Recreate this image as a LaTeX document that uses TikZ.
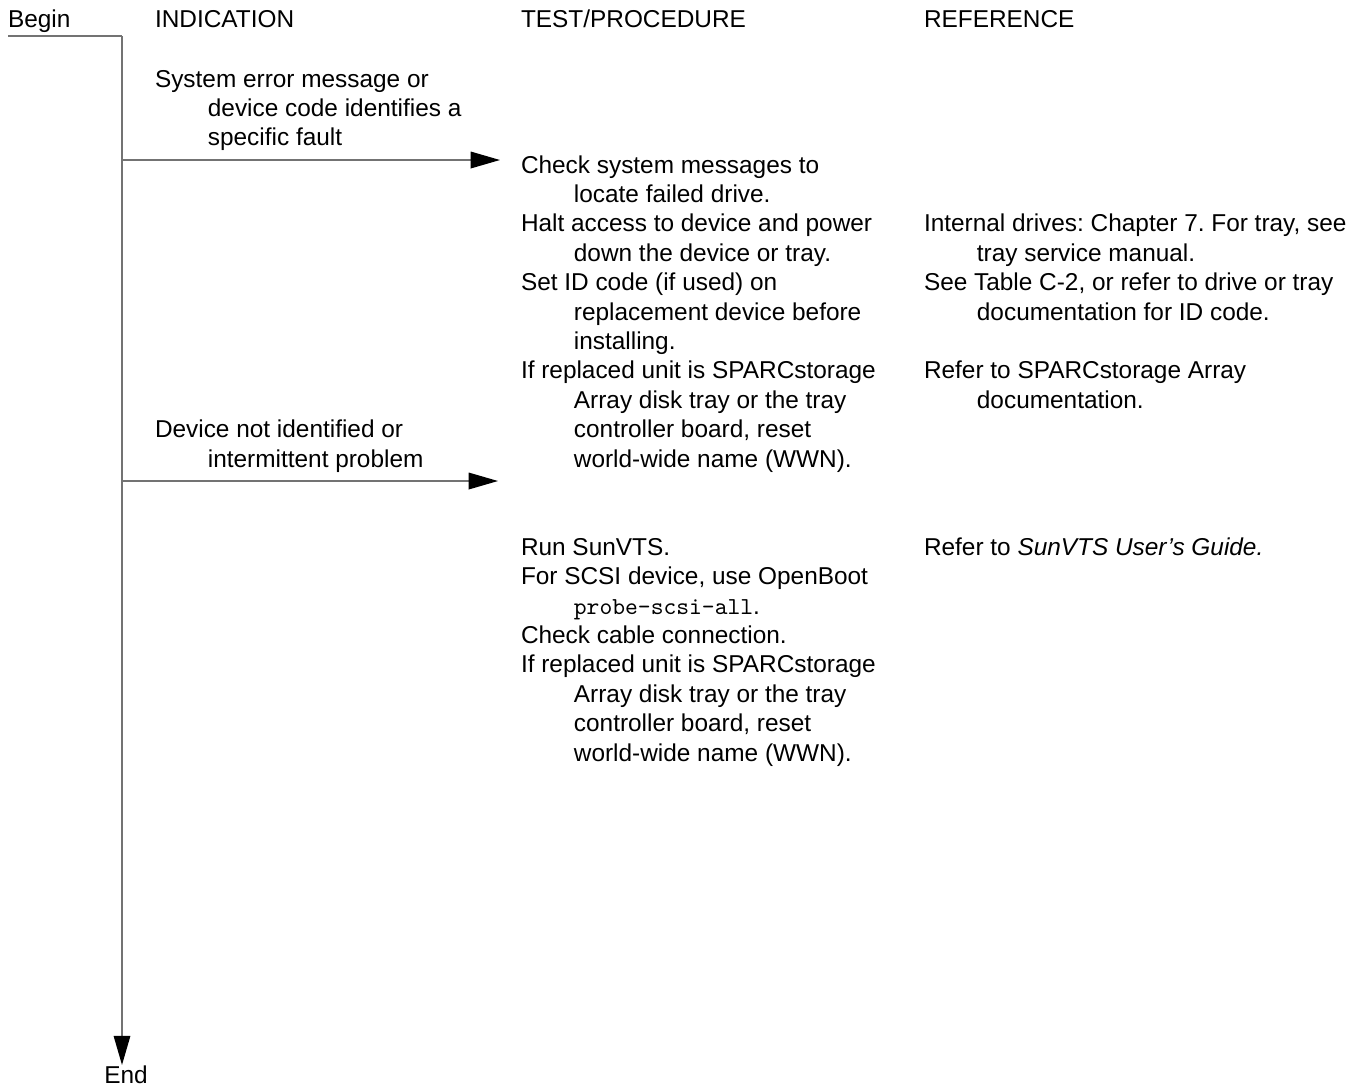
\documentclass[tikz,border=0pt]{standalone}
\usepackage{fontspec}
\setmainfont{Liberation Sans}
\frenchspacing
\usetikzlibrary{positioning,arrows.meta}
\tikzset{lbl/.style={anchor=base west, inner sep=0pt, outer sep=0pt, font=\fontsize{10}{12.05}\selectfont}}
% multi-line texts: placed at the baseline of their last line
\tikzset{txt/.style={lbl, align=left}}
\tikzset{flow/.style={draw=black!55, line width=0.6pt}}
\tikzset{arrtip/.style={-{Triangle[length=12pt, width=6.8pt, black]}}}
\newcommand{\ind}{\hspace*{21.7pt}}
\newcommand{\cmd}[1]{{\ttfamily #1}}

\begin{document}
\begin{tikzpicture}[x=0.41pt, y=-0.41pt]
			\useasboundingbox (0,0) rectangle (1355,1089);
			% column heads
			\node[lbl] (begin) at (8,27) {Begin};
			\node[lbl] (hind) at (155,27) {INDICATION};
			\node[lbl] (htest) at (521,27) {TEST/PROCEDURE};
			\node[lbl] (href) at (924,27) {REFERENCE};
			% indications
			\node[txt] (ind1) at (155,145.8) {System error message or\\
				\ind device code identifies a\\
				\ind specific fault};
			\node[txt] (ind2) at (155,467) {Device not identified or\\
				\ind intermittent problem};
			% tests, first branch
			\node[txt] (t1) at (521,202.4) {Check system messages to\\
				\ind locate failed drive.};
			\node[txt] (t2) at (521,261.2) {Halt access to device and power\\
				\ind down the device or tray.};
			\node[txt] (t3) at (521,349.4) {Set ID code (if used) on\\
				\ind replacement device before\\
				\ind installing.};
			\node[txt] (t4) at (521,467) {If replaced unit is SPARCstorage\\
				\ind Array disk tray or the tray\\
				\ind controller board, reset\\
				\ind world-wide name (WWN).};
			% tests, second branch
			\node[lbl] (t5) at (521,555.2) {Run SunVTS.};
			\node[txt] (t6) at (521,614) {For SCSI device, use OpenBoot\\
				\ind\cmd{probe-scsi-all}.};
			\node[lbl] (t7) at (521,643.4) {Check cable connection.};
			\node[txt] (t8) at (521,761) {If replaced unit is SPARCstorage\\
				\ind Array disk tray or the tray\\
				\ind controller board, reset\\
				\ind world-wide name (WWN).};
			% references
			\node[txt] (r1) at (924,261.2) {Internal drives: Chapter 7. For tray, see\\
				\ind tray service manual.};
			\node[txt] (r2) at (924,320) {See Table C-2, or refer to drive or tray\\
				\ind documentation for ID code.};
			\node[txt] (r3) at (924,408.2) {Refer to SPARCstorage Array\\
				\ind documentation.};
			\node[lbl] (r4) at (924,555.2) {Refer to \textit{SunVTS User's Guide.}};
			% end
			\node[lbl, anchor=base] (finish) at (126,1083) {End};
			% trunk and branches
			\coordinate (start) at (8,36);
			\coordinate (top) at (122,36);
			\coordinate (bottom) at (122,1065);
			\coordinate (j1) at (122,160);
			\coordinate (j2) at (122,481);
			\coordinate (a1) at (500,160);
			\coordinate (a2) at (498,481);
			\draw[flow] (start) -- (top);
			\draw[flow, arrtip] (top) -- (bottom);
			\draw[flow, arrtip] (j1) -- (a1);
			\draw[flow, arrtip] (j2) -- (a2);
\end{tikzpicture}
\end{document}
